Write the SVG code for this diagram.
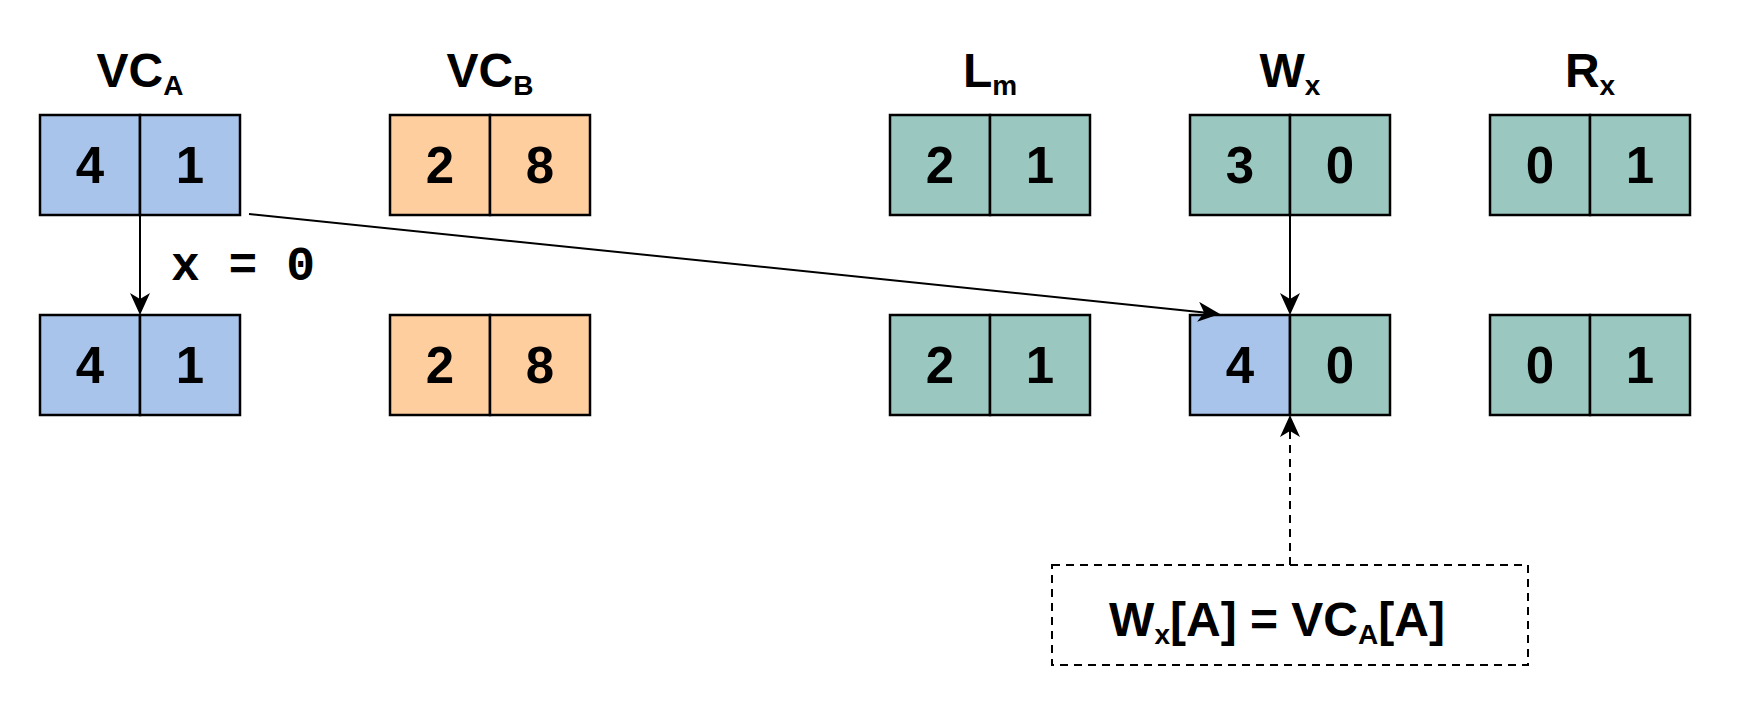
<svg xmlns="http://www.w3.org/2000/svg" width="1754" height="710" viewBox="0 0 1754 710">
<style>
.c{stroke:#000;stroke-width:2.5}
.b{fill:#A9C4EB}
.o{fill:#FFCE9F}
.g{fill:#9AC7BF}
.n{font-family:"Liberation Sans",Arial,sans-serif;font-weight:bold;font-size:51px;text-anchor:middle;fill:#000}
.t{font-family:"Liberation Sans",Arial,sans-serif;font-weight:bold;font-size:48px;text-anchor:middle;fill:#000}
.s{font-size:28px}
.e{fill:none;stroke:#000;stroke-width:2}
.d{stroke-dasharray:8 6}
.m{font-family:"Liberation Mono","Courier New",monospace;font-weight:bold;font-size:48px;fill:#000}
</style>
<defs>
<marker id="ah" markerUnits="userSpaceOnUse" markerWidth="22" markerHeight="20" viewBox="0 0 22 20" refX="6" refY="10" orient="auto">
<path d="M0,0 L22,10 L0,20 L6,10 Z" fill="#000"/>
</marker>
</defs>
<rect width="1754" height="710" fill="#fff"/>

<g id="title-vca"><text class="t" x="140" y="87">VC<tspan class="s" dy="8">A</tspan></text></g>
<g id="title-vcb"><text class="t" x="490" y="87">VC<tspan class="s" dy="8">B</tspan></text></g>
<g id="title-lm"><text class="t" x="990" y="87">L<tspan class="s" dy="8">m</tspan></text></g>
<g id="title-wx"><text class="t" x="1290" y="87">W<tspan class="s" dy="8">x</tspan></text></g>
<g id="title-rx"><text class="t" x="1590" y="87">R<tspan class="s" dy="8">x</tspan></text></g>

<g id="vca-1"><rect class="c b" x="40" y="115" width="100" height="100"/><rect class="c b" x="140" y="115" width="100" height="100"/><text class="n" x="90" y="183">4</text><text class="n" x="190" y="183">1</text></g>
<g id="vcb-1"><rect class="c o" x="390" y="115" width="100" height="100"/><rect class="c o" x="490" y="115" width="100" height="100"/><text class="n" x="440" y="183">2</text><text class="n" x="540" y="183">8</text></g>
<g id="lm-1"><rect class="c g" x="890" y="115" width="100" height="100"/><rect class="c g" x="990" y="115" width="100" height="100"/><text class="n" x="940" y="183">2</text><text class="n" x="1040" y="183">1</text></g>
<g id="wx-1"><rect class="c g" x="1190" y="115" width="100" height="100"/><rect class="c g" x="1290" y="115" width="100" height="100"/><text class="n" x="1240" y="183">3</text><text class="n" x="1340" y="183">0</text></g>
<g id="rx-1"><rect class="c g" x="1490" y="115" width="100" height="100"/><rect class="c g" x="1590" y="115" width="100" height="100"/><text class="n" x="1540" y="183">0</text><text class="n" x="1640" y="183">1</text></g>

<g id="vca-2"><rect class="c b" x="40" y="315" width="100" height="100"/><rect class="c b" x="140" y="315" width="100" height="100"/><text class="n" x="90" y="383">4</text><text class="n" x="190" y="383">1</text></g>
<g id="vcb-2"><rect class="c o" x="390" y="315" width="100" height="100"/><rect class="c o" x="490" y="315" width="100" height="100"/><text class="n" x="440" y="383">2</text><text class="n" x="540" y="383">8</text></g>
<g id="lm-2"><rect class="c g" x="890" y="315" width="100" height="100"/><rect class="c g" x="990" y="315" width="100" height="100"/><text class="n" x="940" y="383">2</text><text class="n" x="1040" y="383">1</text></g>
<g id="wx-2"><rect class="c b" x="1190" y="315" width="100" height="100"/><rect class="c g" x="1290" y="315" width="100" height="100"/><text class="n" x="1240" y="383">4</text><text class="n" x="1340" y="383">0</text></g>
<g id="rx-2"><rect class="c g" x="1490" y="315" width="100" height="100"/><rect class="c g" x="1590" y="315" width="100" height="100"/><text class="n" x="1540" y="383">0</text><text class="n" x="1640" y="383">1</text></g>

<g id="note"><rect class="e d" x="1052" y="565" width="476" height="100"/><text class="t" x="1277" y="636">W<tspan class="s" dy="8">x</tspan><tspan dy="-8">[A] = VC</tspan><tspan class="s" dy="8">A</tspan><tspan dy="-8">[A]</tspan></text></g>

<g id="connectors">
<line class="e" x1="140" y1="215" x2="140" y2="299" marker-end="url(#ah)"/>
<text class="m" x="171" y="280">x = 0</text>
<line class="e" x1="249" y1="214" x2="1204.1" y2="312.4" marker-end="url(#ah)"/>
<line class="e" x1="1290" y1="215" x2="1290" y2="299" marker-end="url(#ah)"/>
<line class="e d" x1="1290" y1="565" x2="1290" y2="431" marker-end="url(#ah)"/>
</g>
</svg>
